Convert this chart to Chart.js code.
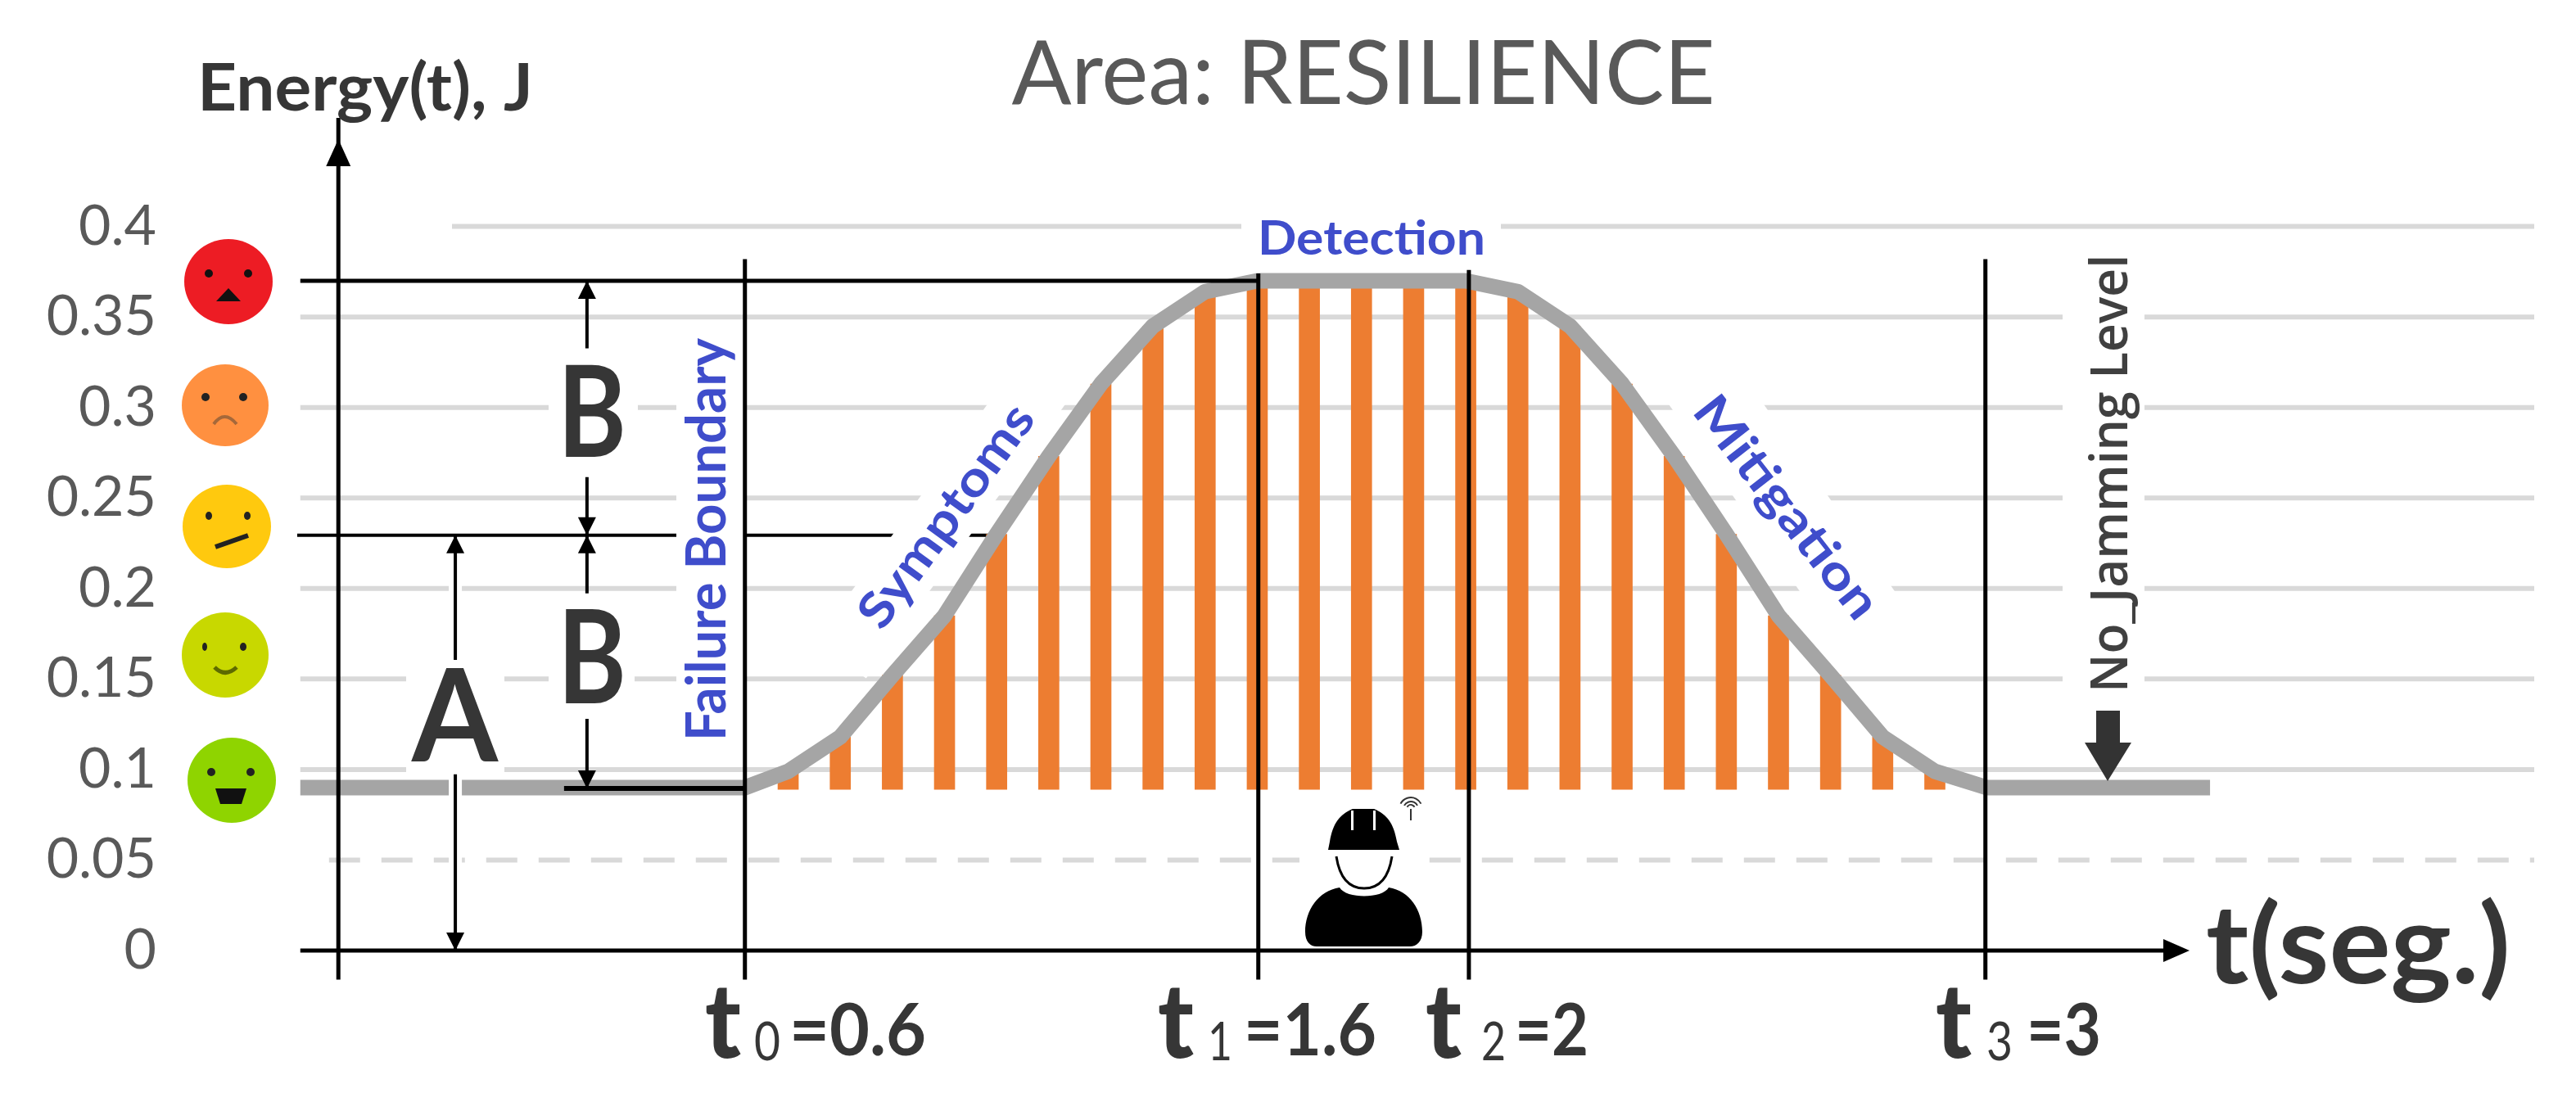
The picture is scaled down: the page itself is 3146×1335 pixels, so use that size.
<!DOCTYPE html>
<html>
<head>
<meta charset="utf-8">
<title>Area: RESILIENCE</title>
<script src="https://cdn.jsdelivr.net/npm/chart.js@4/dist/chart.umd.min.js"></script>
<style>
  html, body { margin: 0; background: #fff; }
  canvas { display: block; }
</style>
</head>
<body>
<canvas id="chart" width="3146" height="1335"></canvas>
<script>
// Values
const curveTimes = [-0.236, 0.617, 0.7, 0.8, 0.9, 1.0, 1.1, 1.2, 1.3, 1.4, 1.5, 1.6, 2.0, 2.1, 2.2, 2.3, 2.4, 2.5, 2.6, 2.7, 2.8, 2.9, 3.0, 3.428];
const curveEnergy = [0.09, 0.09, 0.099, 0.118, 0.152, 0.185, 0.23, 0.273, 0.313, 0.345, 0.364, 0.37, 0.37, 0.364, 0.345, 0.313, 0.273, 0.23, 0.185, 0.152, 0.118, 0.099, 0.09, 0.09];
const barTimes = [0.7, 0.8, 0.9, 1.0, 1.1, 1.2, 1.3, 1.4, 1.5, 1.6, 1.7, 1.8, 1.9, 2.0, 2.1, 2.2, 2.3, 2.4, 2.5, 2.6, 2.7, 2.8, 2.9];
const barEnergy = [0.099, 0.118, 0.152, 0.185, 0.23, 0.273, 0.313, 0.345, 0.364, 0.37, 0.37, 0.37, 0.37, 0.37, 0.364, 0.345, 0.313, 0.273, 0.23, 0.185, 0.152, 0.118, 0.099];
const barBase = 0.089;
const eventTimes = [0.617, 1.602, 2.006, 2.997];
const eventTops = [0.382, 0.374, 0.376, 0.382];
const eventNames = ['0', '1', '2', '3'];
const eventValues = ['=0.6', '=1.6', '=2', '=3'];
const gridValues = [0.05, 0.1, 0.15, 0.2, 0.25, 0.3, 0.35, 0.4];
const gridStarts = [-0.181, -0.236, -0.236, -0.236, -0.236, -0.236, -0.236, 0.055];
const yAxisTime = -0.163;
const axisBottom = -0.016;
const peakEnergy = 0.37;
const midEnergy = 0.2294;
const floorEnergy = 0.0896;

const GRID = '#d9d9d9', CURVE = '#a5a5a5', BAR = '#ed7d31', INK = '#000000';
const DARK = '#363636', GREY = '#595959', BLUE = '#3f4dcb';
const FONT = 'Lato, "Open Sans", sans-serif';

function line(points, color, width, order, extra) {
    return Object.assign({
        type: 'line',
        data: points,
        borderColor: color,
        borderWidth: width,
        pointRadius: 0,
        tension: 0,
        spanGaps: false,
        clip: false,
        order: order
    }, extra || {});
}

function xy(xs, ys) {
    return xs.map((x, i) => ({ x: x, y: ys[i] }));
}

// Stretch text to the width measured in the reference
function fitText(ctx, str, x, y, width, font, color, angle, align) {
    ctx.save();
    ctx.font = font;
    ctx.fillStyle = color;
    ctx.textBaseline = 'alphabetic';
    ctx.textAlign = align || 'left';
    ctx.translate(x, y);
    if (angle) ctx.rotate(angle);
    ctx.scale(width / ctx.measureText(str).width, 1);
    ctx.fillText(str, 0, 0);
    ctx.restore();
}

function whiteBox(ctx, x, y, w, h) {
    ctx.fillStyle = '#fff';
    ctx.fillRect(x, y, w, h);
}

function whiteBoxRotated(ctx, cx, cy, w, h, angle) {
    ctx.save();
    ctx.translate(cx, cy);
    ctx.rotate(angle);
    ctx.fillStyle = '#fff';
    ctx.fillRect(-w / 2, -h / 2, w, h);
    ctx.restore();
}

function triangle(ctx, x1, y1, x2, y2, x3, y3, color) {
    ctx.fillStyle = color;
    ctx.beginPath();
    ctx.moveTo(x1, y1);
    ctx.lineTo(x2, y2);
    ctx.lineTo(x3, y3);
    ctx.closePath();
    ctx.fill();
}

// Gaps behind the labels, cut from the grid before the bars go on
const labelMasks = {
    id: 'labelMasks',
    beforeDatasetDraw(chart, args) {
        if (!chart.data.datasets[args.index].maskBefore) return;
        const ctx = chart.ctx;
        whiteBox(ctx, 826, 395, 85, 535);
        whiteBox(ctx, 670, 426, 109, 157);
        whiteBox(ctx, 670, 725, 105, 153);
        whiteBox(ctx, 496, 806, 120, 140);
        whiteBox(ctx, 1516, 255, 317, 65);
        whiteBox(ctx, 2519, 300, 100, 560);
        whiteBox(ctx, 1587, 975, 155, 180);
        whiteBoxRotated(ctx, 1153, 632, 430, 77, -54 * Math.PI / 180);
        whiteBoxRotated(ctx, 2183, 618, 430, 95, 55 * Math.PI / 180);
    }
};

function dot(ctx, x, y, rx, ry) {
    ctx.beginPath();
    ctx.ellipse(x, y, rx, ry, 0, 0, Math.PI * 2);
    ctx.fill();
}

function drawFaces(ctx) {
    // red
    ctx.fillStyle = '#ed1c24';
    dot(ctx, 279, 344, 54, 52);
    ctx.fillStyle = '#111';
    dot(ctx, 255, 334, 5, 5);
    dot(ctx, 303, 334, 5, 5);
    triangle(ctx, 264, 368, 294, 368, 279, 352, '#111');

    // orange
    ctx.fillStyle = '#ff9040';
    dot(ctx, 275, 495, 53, 50);
    ctx.fillStyle = '#222';
    dot(ctx, 251, 485, 5, 5);
    dot(ctx, 297, 485, 5, 5);
    ctx.strokeStyle = '#a5683a';
    ctx.lineWidth = 4;
    ctx.beginPath();
    ctx.moveTo(261, 518);
    ctx.quadraticCurveTo(274, 500, 289, 518);
    ctx.stroke();

    // yellow
    ctx.fillStyle = '#ffc90e';
    dot(ctx, 277, 643, 54, 51);
    ctx.fillStyle = '#222';
    dot(ctx, 255, 630, 4, 5);
    dot(ctx, 302, 630, 4, 5);
    ctx.strokeStyle = '#222';
    ctx.lineWidth = 6;
    ctx.beginPath();
    ctx.moveTo(263, 668);
    ctx.lineTo(303, 654);
    ctx.stroke();

    // lime
    ctx.fillStyle = '#c8d800';
    dot(ctx, 275, 800, 53, 52);
    ctx.fillStyle = '#222';
    dot(ctx, 250, 790, 3, 5);
    dot(ctx, 297, 790, 4, 5);
    ctx.strokeStyle = '#5d6a00';
    ctx.lineWidth = 5;
    ctx.beginPath();
    ctx.moveTo(262, 815);
    ctx.quadraticCurveTo(275, 828, 289, 815);
    ctx.stroke();

    // green
    ctx.fillStyle = '#8fd400';
    dot(ctx, 283, 953, 54, 52);
    ctx.fillStyle = '#222';
    dot(ctx, 258, 943, 5, 5);
    dot(ctx, 306, 943, 5, 5);
    ctx.fillStyle = '#111';
    ctx.beginPath();
    ctx.moveTo(263, 963);
    ctx.lineTo(301, 963);
    ctx.lineTo(295, 982);
    ctx.lineTo(269, 982);
    ctx.closePath();
    ctx.fill();
}

function drawWorker(ctx) {
    ctx.fillStyle = '#000';
    // hard hat
    ctx.beginPath();
    ctx.moveTo(1624, 1028);
    ctx.bezierCurveTo(1628, 1005, 1636, 995, 1652, 988);
    ctx.lineTo(1678, 988);
    ctx.bezierCurveTo(1694, 995, 1702, 1005, 1706, 1028);
    ctx.lineTo(1709, 1038);
    ctx.lineTo(1622, 1038);
    ctx.closePath();
    ctx.fill();
    ctx.fillStyle = '#fff';
    ctx.fillRect(1650, 990, 3, 24);
    ctx.fillRect(1677, 990, 3, 24);
    // chin strap
    ctx.strokeStyle = '#000';
    ctx.lineWidth = 3;
    ctx.beginPath();
    ctx.moveTo(1632, 1046);
    ctx.bezierCurveTo(1636, 1072, 1648, 1085, 1666, 1085);
    ctx.bezierCurveTo(1684, 1085, 1696, 1072, 1700, 1046);
    ctx.stroke();
    // shoulders
    ctx.fillStyle = '#000';
    ctx.beginPath();
    ctx.moveTo(1636, 1084);
    ctx.bezierCurveTo(1644, 1098, 1688, 1098, 1696, 1084);
    ctx.bezierCurveTo(1722, 1088, 1737, 1112, 1737, 1138);
    ctx.bezierCurveTo(1737, 1150, 1730, 1156, 1722, 1156);
    ctx.lineTo(1608, 1156);
    ctx.bezierCurveTo(1600, 1156, 1594, 1150, 1594, 1138);
    ctx.bezierCurveTo(1594, 1112, 1610, 1088, 1636, 1084);
    ctx.closePath();
    ctx.fill();
    // wifi mark
    ctx.strokeStyle = '#333';
    ctx.lineWidth = 2;
    [14, 9, 5].forEach(r => {
        ctx.beginPath();
        ctx.arc(1723, 988, r, Math.PI * 1.15, Math.PI * 1.85);
        ctx.stroke();
    });
    ctx.beginPath();
    ctx.moveTo(1723, 988);
    ctx.lineTo(1723, 1002);
    ctx.stroke();
}

// Arrow heads, faces, icon and all the lettering
const overlay = {
    id: 'overlay',
    afterDatasetsDraw(chart) {
        const ctx = chart.ctx;
        const px = v => chart.scales.x.getPixelForValue(v);
        const py = v => chart.scales.y.getPixelForValue(v);

        const arrowUp = (t, v) => triangle(ctx, px(t), py(v), px(t) - 11, py(v) + 22, px(t) + 11, py(v) + 22, INK);
        const arrowDown = (t, v) => triangle(ctx, px(t), py(v), px(t) - 11, py(v) - 22, px(t) + 11, py(v) - 22, INK);

        const bX = 0.314, aX = 0.0614;
        arrowUp(bX, peakEnergy);
        arrowDown(bX, midEnergy);
        arrowUp(bX, midEnergy);
        arrowDown(bX, floorEnergy);
        arrowUp(aX, midEnergy);
        arrowDown(aX, 0);

        // y axis arrow
        const yx = px(yAxisTime);
        triangle(ctx, yx, 170, yx - 15, 203, yx + 15, 203, INK);
        // x axis arrow
        triangle(ctx, 2674, py(0), 2642, py(0) - 14, 2642, py(0) + 14, INK);

        // No_Jamming arrow
        ctx.fillStyle = '#333';
        ctx.fillRect(2560, 868, 29, 40);
        triangle(ctx, 2574, 954, 2546, 907, 2603, 907, '#333');

        drawFaces(ctx);
        drawWorker(ctx);

        const bold = s => 'bold ' + s + 'px ' + FONT;
        const reg = s => s + 'px ' + FONT;

        fitText(ctx, 'Energy(t), J', 241, 135, 410, bold(80), DARK);
        fitText(ctx, 't(seg.)', 2694, 1201, 372, bold(135), DARK);
        fitText(ctx, 'A', 503, 930, 105, bold(158), DARK);
        fitText(ctx, 'B', 681, 558, 84, bold(156), DARK);
        fitText(ctx, 'B', 681, 859, 84, bold(160), DARK);

        const tLeft = [861, 1414, 1741, 2364];
        const tWidth = [44, 44, 44, 44];
        const subLeft = [921, 1475, 1809, 2426];
        const subWidth = [32, 30, 30, 32];
        const valLeft = [964, 1519, 1850, 2475];
        const valWidth = [167, 162, 90, 91];
        eventTimes.forEach((t, i) => {
            fitText(ctx, 't', tLeft[i], 1292, tWidth[i], '900 128px ' + FONT, DARK);
            fitText(ctx, eventNames[i], subLeft[i], 1295, subWidth[i], reg(66), DARK);
            fitText(ctx, eventValues[i], valLeft[i], 1289, valWidth[i], bold(88), DARK);
        });

        fitText(ctx, 'Detection', 1536, 311, 278, bold(58), BLUE);
        fitText(ctx, 'Failure Boundary', 886, 905, 492, bold(66), BLUE, -Math.PI / 2);
        fitText(ctx, 'Symptoms', 1172, 642, 322, bold(60), BLUE, -54 * Math.PI / 180, 'center');
        fitText(ctx, 'Mitigation', 2166, 632, 328, bold(60), BLUE, 52 * Math.PI / 180, 'center');
        fitText(ctx, 'No_Jamming Level', 2598, 846, 535, '600 64px "Open Sans", sans-serif', '#404040', -Math.PI / 2);
    }
};

// Grid lines
const datasets = gridValues.map((v, i) => line(
    [{ x: gridStarts[i], y: v }, { x: 4.05, y: v }],
    GRID, 6, 20, v === 0.05 ? { borderDash: [38, 26] } : {}
));

// Level line of the middle mark, the labels cut it afterwards
datasets.push(line([{ x: -0.242, y: midEnergy }, { x: 1.108, y: midEnergy }], INK, 4, 15));

// Bars up to the curve
datasets.push({
    type: 'bar',
    data: barTimes.map((t, i) => ({ x: t, y: [barBase, barEnergy[i]] })),
    backgroundColor: BAR,
    barThickness: 25,
    order: 10,
    maskBefore: true
});

datasets.push(line(xy(curveTimes, curveEnergy), CURVE, 19, 8, { borderJoinStyle: 'round' }));

// White halo along the A arrow
datasets.push(line([{ x: 0.0614, y: 0.22 }, { x: 0.0614, y: 0.004 }], '#fff', 16, 6));

// Black construction lines
datasets.push(line([{ x: -0.236, y: 0 }, { x: 3.34, y: 0 }], INK, 5, 4));
datasets.push(line([{ x: -0.236, y: peakEnergy }, { x: 1.602, y: peakEnergy }], INK, 5, 4));
datasets.push(line([{ x: 0.27, y: floorEnergy }, { x: 0.617, y: floorEnergy }], INK, 6, 4));
datasets.push(line([{ x: yAxisTime, y: axisBottom }, { x: yAxisTime, y: 0.46 }], INK, 5, 4));
eventTimes.forEach((t, i) => {
    datasets.push(line([{ x: t, y: axisBottom }, { x: t, y: eventTops[i] }], INK, 5, 3));
});

// Double arrows, broken where the letters sit
datasets.push(line([
    { x: 0.314, y: peakEnergy }, { x: 0.314, y: 0.3326 }, { x: 0.314, y: null },
    { x: 0.314, y: 0.2615 }, { x: 0.314, y: midEnergy }
], INK, 4, 2));
datasets.push(line([
    { x: 0.314, y: midEnergy }, { x: 0.314, y: 0.1973 }, { x: 0.314, y: null },
    { x: 0.314, y: 0.128 }, { x: 0.314, y: floorEnergy }
], INK, 4, 2));
datasets.push(line([
    { x: 0.0614, y: midEnergy }, { x: 0.0614, y: 0.1606 }, { x: 0.0614, y: null },
    { x: 0.0614, y: 0.0973 }, { x: 0.0614, y: 0 }
], INK, 4, 2));

new Chart(document.getElementById('chart'), {
    data: { datasets: datasets },
    plugins: [labelMasks, overlay],
    options: {
        responsive: false,
        animation: false,
        layout: { padding: { top: 0, left: 0, right: 51, bottom: 174 } },
        plugins: {
            legend: { display: false },
            tooltip: { enabled: false },
            title: {
                display: true,
                text: 'Area: RESILIENCE',
                fullSize: false,
                color: GREY,
                font: { family: FONT, size: 108, weight: 'normal', lineHeight: 1.2 },
                padding: { top: 27, bottom: 120 }
            }
        },
        scales: {
            x: { type: 'linear', display: false, min: -0.443, max: 4.05, offset: false },
            y: {
                min: 0,
                max: 0.4,
                afterFit: scale => { scale.width = 235; },
                border: { display: false },
                grid: { display: false, drawTicks: false },
                ticks: {
                    stepSize: 0.05,
                    padding: 44,
                    color: GREY,
                    font: { family: FONT, size: 68 },
                    callback: v => String(+v.toFixed(2))
                }
            }
        }
    }
});
</script>
</body>
</html>
